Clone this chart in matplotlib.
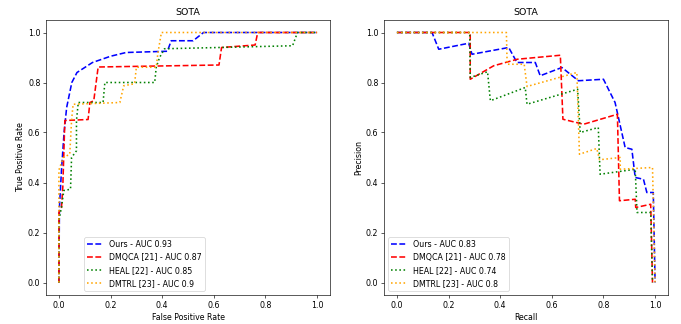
import numpy as np
import matplotlib
matplotlib.use('Agg')
import matplotlib.pyplot as plt

#---------------------------------------------------------
# Dados - curvas ROC
#---------------------------------------------------------

nomes = ['Ours', 'DMQCA [21]', 'HEAL [22]', 'DMTRL [23]']
cores = ['blue', 'red', 'green', 'orange']
estilos = ['--', '--', ':', ':']

auc_roc = [0.93, 0.87, 0.85, 0.9]
auc_pr = [0.83, 0.78, 0.74, 0.8]

fpr_ours = [0.0, 0.002, 0.01, 0.02, 0.03, 0.05, 0.07, 0.13, 0.2, 0.26, 0.42, 0.435, 0.52, 0.56, 1.0]
tpr_ours = [0.0, 0.30, 0.45, 0.60, 0.70, 0.80, 0.84, 0.88, 0.905, 0.92, 0.925, 0.967, 0.967, 1.0, 1.0]

fpr_dmqca = [0.0, 0.0, 0.01, 0.015, 0.023, 0.113, 0.12, 0.135, 0.152, 0.62, 0.63, 0.76, 0.77, 1.0]
tpr_dmqca = [0.0, 0.28, 0.30, 0.38, 0.648, 0.652, 0.72, 0.727, 0.862, 0.87, 0.94, 0.95, 1.0, 1.0]

fpr_heal = [0.0, 0.0, 0.01, 0.019, 0.045, 0.049, 0.068, 0.068, 0.075, 0.171, 0.178, 0.371, 0.377, 0.39, 0.409, 0.62, 0.905, 0.924, 1.0]
tpr_heal = [0.0, 0.25, 0.30, 0.368, 0.373, 0.50, 0.527, 0.648, 0.72, 0.72, 0.80, 0.80, 0.861, 0.90, 0.935, 0.94, 0.947, 1.0, 1.0]

fpr_dmtrl = [0.0, 0.0, 0.017, 0.042, 0.049, 0.055, 0.236, 0.251, 0.293, 0.30, 0.377, 0.383, 0.397, 1.0]
tpr_dmtrl = [0.0, 0.45, 0.50, 0.513, 0.648, 0.713, 0.72, 0.787, 0.795, 0.861, 0.861, 0.915, 1.0, 1.0]

#---------------------------------------------------------
# Dados - curvas precision-recall
#---------------------------------------------------------

rec_ours = [0.0, 0.136, 0.162, 0.278, 0.291, 0.433, 0.465, 0.536, 0.555, 0.639, 0.703, 0.80, 0.845, 0.884, 0.91, 0.923, 0.955, 0.968, 0.993, 1.0]
prec_ours = [1.0, 1.0, 0.933, 0.957, 0.913, 0.94, 0.88, 0.88, 0.827, 0.86, 0.807, 0.813, 0.72, 0.54, 0.533, 0.42, 0.413, 0.36, 0.36, 0.0]

rec_dmqca = [0.0, 0.284, 0.284, 0.375, 0.466, 0.633, 0.643, 0.723, 0.854, 0.862, 0.923, 0.925, 0.983, 0.99]
prec_dmqca = [1.0, 1.0, 0.813, 0.867, 0.893, 0.909, 0.653, 0.633, 0.673, 0.327, 0.333, 0.30, 0.313, 0.0]

rec_heal = [0.0, 0.282, 0.284, 0.351, 0.362, 0.497, 0.504, 0.70, 0.71, 0.78, 0.787, 0.923, 0.93, 0.983, 0.99]
prec_heal = [1.0, 1.0, 0.82, 0.843, 0.727, 0.78, 0.713, 0.773, 0.60, 0.62, 0.433, 0.453, 0.28, 0.28, 0.0]

rec_dmtrl = [0.0, 0.424, 0.427, 0.493, 0.504, 0.697, 0.707, 0.774, 0.785, 0.865, 0.865, 0.99, 1.0]
prec_dmtrl = [1.0, 1.0, 0.873, 0.873, 0.784, 0.84, 0.513, 0.536, 0.491, 0.50, 0.453, 0.46, 0.0]

roc = [(fpr_ours, tpr_ours), (fpr_dmqca, tpr_dmqca), (fpr_heal, tpr_heal), (fpr_dmtrl, tpr_dmtrl)]
pr = [(rec_ours, prec_ours), (rec_dmqca, prec_dmqca), (rec_heal, prec_heal), (rec_dmtrl, prec_dmtrl)]

#---------------------------------------------------------
# Figura (12 x 5.7 polegadas reduzida para 681x324)
#---------------------------------------------------------

fig = plt.figure(figsize=(12, 324 / 56.75), dpi=56.75)

ax1 = fig.add_axes([46 / 681, 29 / 324, 284 / 681, 275 / 324])
for (x, y), nome, c, ls, a in zip(roc, nomes, cores, estilos, auc_roc):
    ax1.plot(x, y, ls, color=c, lw=2, label=f'{nome} - AUC {a}')
ax1.set_title('SOTA')
ax1.set_xlabel('False Positive Rate')
ax1.set_ylabel('True Positive Rate')
ax1.legend(loc='lower left', bbox_to_anchor=(0.12, 0.0))

ax2 = fig.add_axes([384 / 681, 29 / 324, 284 / 681, 275 / 324])
for (x, y), nome, c, ls, a in zip(pr, nomes, cores, estilos, auc_pr):
    ax2.plot(x, y, ls, color=c, lw=2, label=f'{nome} - AUC {a}')
ax2.set_title('SOTA')
ax2.set_xlabel('Recall')
ax2.set_ylabel('Precision')
ax2.legend(loc='lower left')

for ax in (ax1, ax2):
    ax.set_xticks(np.arange(0, 1.01, 0.2))
    ax.set_yticks(np.arange(0, 1.01, 0.2))

plt.savefig('out.png', dpi=56.75)
